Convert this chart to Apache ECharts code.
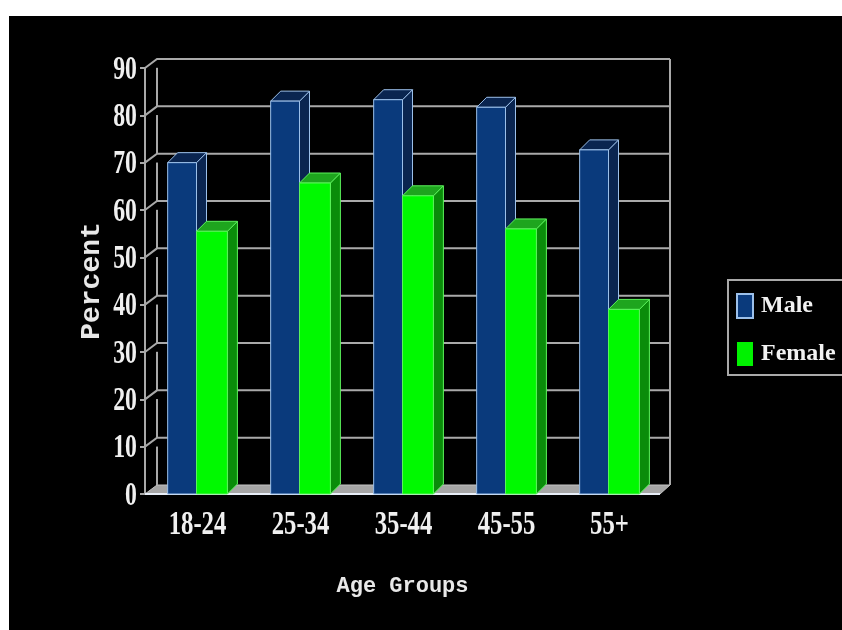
<!DOCTYPE html>
<html>
<head>
<meta charset="utf-8">
<style>html,body{margin:0;padding:0;background:#fff}#chart{width:842px;height:630px}</style>
<script src="https://cdn.jsdelivr.net/npm/echarts@6/dist/echarts.min.js"></script>
</head>
<body>
<div id="chart"></div>
<script>
const categories = ['18-24', '25-34', '35-44', '45-55', '55+'];
const maleValues = [70, 83, 83.3, 81.7, 72.7];
const femaleValues = [55.5, 65.7, 63, 56, 39];
const yTicks = [0, 10, 20, 30, 40, 50, 60, 70, 80, 90];

// Depth of the pseudo-3D extrusion, in pixels
const WALL_DX = 12, WALL_DY = -9, WALL_DX_RIGHT = 10;
const BAR_DX = 10, BAR_DY = -10;
const GRID_LINE = '#a9a9a9';
const LABEL_FONT = 'bold 33px "Liberation Serif"';

function poly(points, style) {
  return { type: 'polygon', shape: { points }, style };
}

function barRenderer(side, widthRatio, front, sideFill, topFill, edge) {
  return function (params, api) {
    const base = api.coord([api.value(0), 0]);
    const top = api.coord([api.value(0), api.value(1)]);
    const w = api.size([1, 0])[0] * widthRatio;
    const x0 = side < 0 ? base[0] - w : base[0];
    const x1 = x0 + w;
    const yT = top[1], yB = base[1];
    const line = { stroke: edge, lineWidth: 1 };
    return {
      type: 'group',
      children: [
        poly([[x1, yB], [x1 + BAR_DX, yB + BAR_DY], [x1 + BAR_DX, yT + BAR_DY], [x1, yT]],
          Object.assign({ fill: sideFill }, line)),
        poly([[x0, yT], [x0 + BAR_DX, yT + BAR_DY], [x1 + BAR_DX, yT + BAR_DY], [x1, yT]],
          Object.assign({ fill: topFill }, line)),
        { type: 'rect', shape: { x: x0, y: yT, width: w, height: yB - yT },
          style: Object.assign({ fill: front }, line) }
      ]
    };
  };
}

// Back wall, left wall and floor, all tied to the value axis
function wallRenderer(params, api) {
  const tick = api.value(0);
  const band = api.size([1, 0])[0];
  const left = api.coord([0, tick])[0] - band / 2;
  const right = left + band * categories.length;
  const y = api.coord([0, tick])[1];
  const backY = y + WALL_DY;
  const backL = left + WALL_DX;
  const backR = right + WALL_DX_RIGHT;
  const children = [];
  const stroke = { stroke: GRID_LINE, lineWidth: 2 };
  if (tick === 0) {
    const yTop = api.coord([0, yTicks[yTicks.length - 1]])[1] + WALL_DY;
    children.push(poly([[left, y], [backL, backY], [backR, backY], [right, y]],
      { fill: '#a6a6a6', stroke: '#c4c4c4', lineWidth: 1 }));
    children.push({ type: 'line', shape: { x1: backL, y1: backY, x2: backL, y2: yTop }, style: stroke });
    children.push({ type: 'line', shape: { x1: backR, y1: backY, x2: backR, y2: yTop }, style: stroke });
    children.push({ type: 'line', shape: { x1: left, y1: y, x2: right, y2: y },
      style: { stroke: '#e8eef8', lineWidth: 2 } });
  } else {
    children.push({ type: 'polyline', shape: { points: [[left, y], [backL, backY], [backR, backY]] }, style: stroke });
  }
  return { type: 'group', children };
}

// Tall, narrow tick labels: real text squeezed horizontally
function narrowText(text, x, y, align, squeeze) {
  return {
    type: 'text', x, y, scaleX: squeeze, silent: true,
    style: { text, x: 0, y: 0, align, verticalAlign: 'middle', font: LABEL_FONT, fill: '#f0f0f0' }
  };
}

function yLabelRenderer(params, api) {
  const tick = api.value(0);
  const p = api.coord([0, tick]);
  const band = api.size([1, 0])[0];
  return narrowText(String(tick), p[0] - band / 2 - 8, p[1] + 2, 'right', 0.72);
}

function xLabelRenderer(params, api) {
  const i = api.value(0);
  const p = api.coord([i, 0]);
  return narrowText(categories[i], p[0] + 1, p[1] + 31, 'center', 0.75);
}

const chart = echarts.init(document.getElementById('chart'));
chart.setOption({
  animation: false,
  backgroundColor: 'transparent',
  graphic: [{
    type: 'rect', z: -10, silent: true,
    shape: { x: 9, y: 16, width: 833, height: 614 },
    style: { fill: '#000' }
  }],
  grid: { left: 145, right: 182, top: 68, bottom: 136 },
  legend: {
    left: 728, top: 280, orient: 'vertical',
    data: ['Male', 'Female'],
    icon: 'rect', itemWidth: 16, itemHeight: 24, itemGap: 23,
    padding: [13, 8, 9, 8],
    borderColor: '#a9a9a9', borderWidth: 2,
    textStyle: { color: '#f2f2f2', fontFamily: 'Liberation Serif', fontWeight: 'bold', fontSize: 24, padding: [2, 0, 0, 3] }
  },
  xAxis: {
    type: 'category', data: categories,
    name: 'Age Groups', nameLocation: 'middle', nameGap: 81,
    nameTextStyle: { color: '#e8e8e8', fontFamily: 'Liberation Mono', fontWeight: 'bold', fontSize: 22 },
    axisLine: { show: false }, axisTick: { show: false },
    axisLabel: { show: false }
  },
  yAxis: {
    type: 'value', min: 0, max: 90, interval: 10,
    name: 'Percent', nameLocation: 'middle', nameGap: 39, nameRotate: 90,
    nameTextStyle: { color: '#e8e8e8', fontFamily: 'Liberation Mono', fontWeight: 'bold', fontSize: 28 },
    axisLine: { show: true, lineStyle: { color: GRID_LINE, width: 2 } },
    axisTick: { show: true, length: 5, lineStyle: { color: GRID_LINE, width: 2 } },
    splitLine: { show: false },
    axisLabel: { show: false }
  },
  series: [
    {
      type: 'custom', name: 'walls', silent: true, z: 1,
      encode: { y: 0 }, data: yTicks.map(t => [t]),
      renderItem: wallRenderer
    },
    {
      type: 'custom', name: 'Male', z: 2,
      itemStyle: { color: '#0a3a7c', borderColor: '#9cc0ea', borderWidth: 1 },
      encode: { x: 0, y: 1 },
      data: categories.map((c, i) => [i, maleValues[i]]),
      renderItem: barRenderer(-1, 0.28, '#0a3a7c', '#0a2550', '#0a2550', '#9cc0ea')
    },
    {
      type: 'custom', name: 'Female', z: 3,
      itemStyle: { color: '#00f200' },
      encode: { x: 0, y: 1 },
      data: categories.map((c, i) => [i, femaleValues[i]]),
      renderItem: barRenderer(1, 0.3, '#00f900', '#0a8c0a', '#1ea51e', '#5cf25c')
    },
    {
      type: 'custom', name: 'yLabels', silent: true, z: 4,
      encode: { y: 0 }, data: yTicks.map(t => [t]),
      renderItem: yLabelRenderer
    },
    {
      type: 'custom', name: 'xLabels', silent: true, z: 4,
      encode: { x: 0 }, data: categories.map((c, i) => [i]),
      renderItem: xLabelRenderer
    }
  ]
});
</script>
</body>
</html>
